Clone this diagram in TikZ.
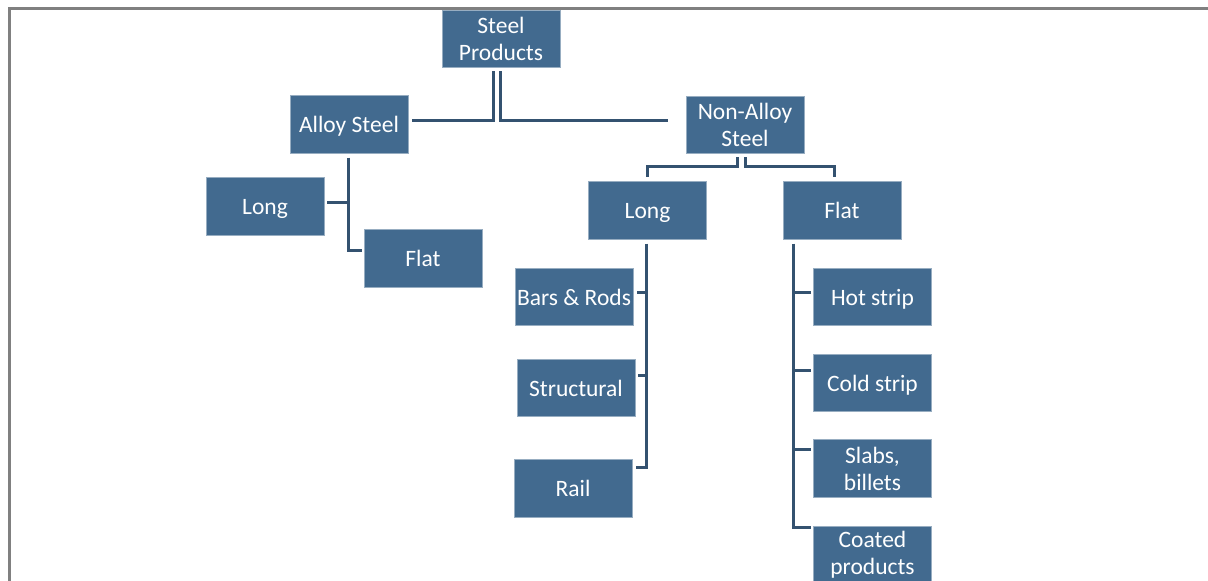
\documentclass[tikz,border=0pt]{standalone}
\usepackage{fontspec}
\setmainfont{Carlito}
\definecolor{boxblue}{RGB}{66,106,143}
\definecolor{linkblue}{RGB}{52,82,112}
\definecolor{framegray}{RGB}{128,128,128}
\tikzset{
  box/.style={rectangle, fill=boxblue, draw=boxblue!55!white, line width=0.7pt,
    minimum width=118pt, minimum height=57.5pt, inner sep=2pt,
    text=white, align=center, font=\fontsize{23.5}{27}\selectfont},
  onebox/.style={box, text depth=0pt},
  conn/.style={draw=linkblue, line width=3pt},
  frameline/.style={draw=framegray, line width=2.4pt}
}
\begin{document}
\begin{tikzpicture}[x=1pt,y=-1pt]
\useasboundingbox (0,0) rectangle (1208,581);
\clip (0,0) rectangle (1208,581);
\draw[frameline] (1212,8.5) -- (9.5,8.5) -- (9.5,585);

\node[box] (sp) at (501,39) {Steel\\Products};
\node[onebox] (alloy) at (349,124.5) {Alloy Steel};
\node[box] (na) at (745,125) {Non-Alloy\\Steel};
\node[onebox] (along) at (265,206.5) {Long};
\node[onebox] (aflat) at (423,258.5) {Flat};
\node[onebox] (nlong) at (647.5,210.5) {Long};
\node[onebox] (nflat) at (842,210.5) {Flat};
\node[onebox] (bars) at (574,297) {Bars \& Rods};
\node[onebox] (struct) at (576,388) {Structural};
\node[onebox] (rail) at (573,488.5) {Rail};
\node[onebox] (hot) at (872.5,297) {Hot strip};
\node[onebox] (cold) at (872.5,383) {Cold strip};
\node[box] (slabs) at (872.5,468.5) {Slabs,\\billets};
\node[box] (coated) at (872.5,555) {Coated\\products};

% top level
\draw[conn] ([xshift=-8pt,yshift=-3pt]sp.south) |- ([xshift=4pt,yshift=4.5pt]alloy.east);
\draw[conn] ([xshift=-1pt,yshift=-3pt]sp.south) |- ([xshift=-18pt,yshift=5pt]na.west);

% alloy steel
\draw[conn] ([xshift=-1pt,yshift=-4pt]alloy.south) |- ([xshift=-2pt,yshift=8.5pt]aflat.west);
\draw[conn] ([xshift=3pt,yshift=4.5pt]along.east) -- ++(21,0);

% non-alloy steel
\draw[conn] ([xshift=-8pt,yshift=-3pt]na.south) -- ++(0,9) -| ([yshift=4pt]nlong.north);
\draw[conn] ([yshift=-3pt]na.south) -- ++(0,9.5) -| ([xshift=-8pt,yshift=4pt]nflat.north);

% long (non-alloy)
\draw[conn] ([xshift=-1.5pt,yshift=-4pt]nlong.south) |- ([xshift=3.5pt,yshift=21.5pt]rail.east);
\draw[conn] ([xshift=4pt,yshift=5pt]bars.east) -- ++(9.5,0);
\draw[conn] ([xshift=3pt,yshift=13pt]struct.east) -- ++(8.5,0);

% flat (non-alloy)
\draw[conn] ([xshift=11pt,yshift=-4pt]nflat.south west) |- ([xshift=-2pt,yshift=28pt]coated.west);
\draw[conn] ([xshift=-2pt,yshift=5pt]hot.west) -- ++(-17,0);
\draw[conn] ([xshift=-2pt,yshift=13pt]cold.west) -- ++(-17,0);
\draw[conn] ([xshift=-2pt,yshift=19.5pt]slabs.west) -- ++(-17,0);
\end{tikzpicture}
\end{document}
